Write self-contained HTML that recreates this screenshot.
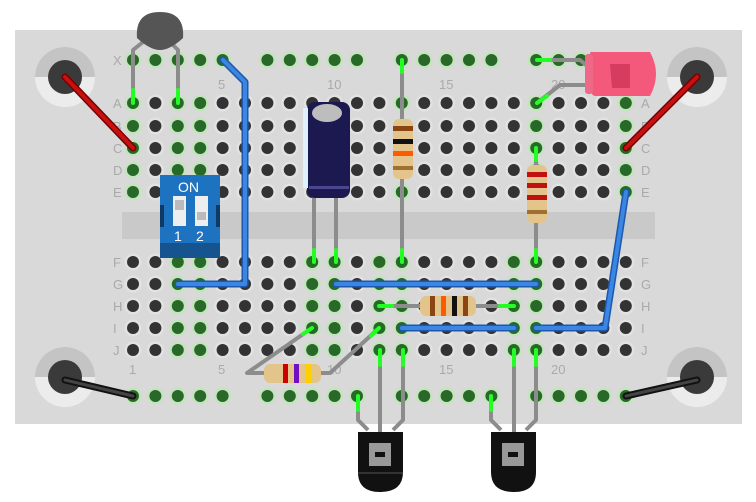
<!DOCTYPE html>
<html><head><meta charset="utf-8"><style>
html,body{margin:0;padding:0;background:#fff;width:756px;height:502px;overflow:hidden}
svg{display:block}
text{font-family:"Liberation Sans",sans-serif;fill:#aaa;font-size:13px}
</style></head><body>
<svg id="s" width="756" height="502" viewBox="0 0 756 502" xmlns="http://www.w3.org/2000/svg">
<rect x="15" y="30" width="727" height="394" fill="#d9d9d9"/>
<rect x="122" y="212" width="533" height="27" fill="#c9c9c9"/>
<g id="holes"></g>
<g>
<text x="113" y="65">X</text>
<text x="113" y="108">A</text><text x="113" y="131">B</text><text x="113" y="153">C</text><text x="113" y="175">D</text><text x="113" y="197">E</text>
<text x="113" y="267">F</text><text x="113" y="289">G</text><text x="113" y="311">H</text><text x="113" y="333">I</text><text x="113" y="355">J</text>
<text x="641" y="108">A</text><text x="641" y="131">B</text><text x="641" y="153">C</text><text x="641" y="175">D</text><text x="641" y="197">E</text>
<text x="641" y="267">F</text><text x="641" y="289">G</text><text x="641" y="311">H</text><text x="641" y="333">I</text><text x="641" y="355">J</text>
<text x="218" y="89">5</text><text x="327" y="89">10</text><text x="439" y="89">15</text><text x="551" y="89">20</text>
<text x="129" y="374">1</text><text x="218" y="374">5</text><text x="327" y="374">10</text><text x="439" y="374">15</text><text x="551" y="374">20</text>
</g>
<g>
<circle cx="65" cy="77" r="30" fill="#ececec"/><path d="M35 77 A30 30 0 0 1 95 77Z" fill="#c4c4c4"/><circle cx="65" cy="77" r="17" fill="#3a3a3a"/>
<circle cx="697" cy="77" r="30" fill="#ececec"/><path d="M667 77 A30 30 0 0 1 727 77Z" fill="#c4c4c4"/><circle cx="697" cy="77" r="17" fill="#3a3a3a"/>
<circle cx="65" cy="377" r="30" fill="#ececec"/><path d="M35 377 A30 30 0 0 1 95 377Z" fill="#c4c4c4"/><circle cx="65" cy="377" r="17" fill="#3a3a3a"/>
<circle cx="697" cy="377" r="30" fill="#ececec"/><path d="M667 377 A30 30 0 0 1 727 377Z" fill="#c4c4c4"/><circle cx="697" cy="377" r="17" fill="#3a3a3a"/>
</g>
<g stroke-linecap="round" fill="none">
<line x1="65" y1="77" x2="133" y2="148" stroke="#700" stroke-width="7"/><line x1="65" y1="77" x2="133" y2="148" stroke="#c81010" stroke-width="4"/>
<line x1="697" y1="77" x2="626" y2="148" stroke="#700" stroke-width="7"/><line x1="697" y1="77" x2="626" y2="148" stroke="#c81010" stroke-width="4"/>
<line x1="65" y1="380" x2="133" y2="396" stroke="#111" stroke-width="7"/><line x1="65" y1="380" x2="133" y2="396" stroke="#444" stroke-width="3"/>
<line x1="697" y1="380" x2="626" y2="396" stroke="#111" stroke-width="7"/><line x1="697" y1="380" x2="626" y2="396" stroke="#444" stroke-width="3"/>
<g stroke="#1c58b0" stroke-width="7" stroke-linejoin="round">
<polyline points="223,60 245,82 245,284 178,284"/>
<polyline points="336,284 536,284"/>
<polyline points="402,328 514,328"/>
<polyline points="536,328 605,328 626,192"/>
</g>
<g stroke="#3b86e0" stroke-width="4" stroke-linejoin="round">
<polyline points="223,60 245,82 245,284 178,284"/>
<polyline points="336,284 536,284"/>
<polyline points="402,328 514,328"/>
<polyline points="536,328 605,328 626,192"/>
</g>
</g>
<g stroke="#8c8c8c" stroke-width="4" fill="none" stroke-linejoin="round">
<polyline points="133,103 133,50 143,42"/><polyline points="178,103 178,50 170,42"/>
<line x1="314" y1="262" x2="314" y2="195"/><line x1="336" y1="262" x2="336" y2="195"/>
<line x1="402" y1="60" x2="402" y2="262"/>
<line x1="536" y1="148" x2="536" y2="262"/>
<polyline points="537,60 580,60 592,70"/><polyline points="537,103 560,85 592,85"/>
<line x1="379" y1="306" x2="514" y2="306"/>
<polyline points="312,328 247,373 330,373 379,328"/>
<polyline points="358,396 358,420 368,430"/><line x1="380" y1="350" x2="380" y2="432"/><polyline points="403,350 403,420 393,430"/>
<polyline points="491,396 491,420 501,430"/><line x1="514" y1="350" x2="514" y2="432"/><polyline points="536,350 536,420 526,430"/>
</g>
<g stroke="#2f2" stroke-width="4" stroke-linecap="round">
<line x1="133" y1="103" x2="133" y2="90"/><line x1="178" y1="103" x2="178" y2="90"/>
<line x1="314" y1="262" x2="314" y2="250"/><line x1="336" y1="262" x2="336" y2="250"/>
<line x1="402" y1="60" x2="402" y2="72"/><line x1="402" y1="262" x2="402" y2="250"/>
<line x1="536" y1="148" x2="536" y2="160"/><line x1="536" y1="262" x2="536" y2="250"/>
<line x1="537" y1="60" x2="550" y2="60"/><line x1="537" y1="103" x2="547" y2="96"/>
<line x1="379" y1="306" x2="392" y2="306"/><line x1="514" y1="306" x2="500" y2="306"/>
<line x1="312" y1="328" x2="303" y2="334"/><line x1="379" y1="328" x2="371" y2="336"/>
<line x1="358" y1="396" x2="358" y2="410"/><line x1="380" y1="350" x2="380" y2="365"/><line x1="403" y1="350" x2="403" y2="365"/>
<line x1="491" y1="396" x2="491" y2="410"/><line x1="514" y1="350" x2="514" y2="365"/><line x1="536" y1="350" x2="536" y2="365"/>
</g>
<path d="M137 38 Q135 12 160 12 Q185 12 183 38 Q170 50 160 50 Q150 50 137 38Z" fill="#555"/>
<rect x="160" y="175" width="60" height="83" fill="#1e73c0"/>
<rect x="160" y="243" width="60" height="15" fill="#15548f"/>
<rect x="160" y="205" width="4" height="22" fill="#0d3a66"/><rect x="216" y="205" width="4" height="22" fill="#0d3a66"/>
<text x="178" y="192" style="fill:#fff;font-size:14px">ON</text>
<rect x="173" y="196" width="13" height="30" fill="#eee"/><rect x="175" y="200" width="9" height="10" fill="#bbb"/>
<rect x="195" y="196" width="13" height="30" fill="#eee"/><rect x="197" y="212" width="9" height="8" fill="#bbb"/>
<text x="174" y="241" style="fill:#fff;font-size:14px">1</text><text x="196" y="241" style="fill:#fff;font-size:14px">2</text>
<rect x="307" y="102" width="43" height="96" rx="8" fill="#1c1850"/>
<ellipse cx="327" cy="113" rx="15" ry="9" fill="#bdbdbd"/>
<rect x="303" y="108" width="5" height="80" fill="#dff0ff"/>
<rect x="309" y="186" width="40" height="3" fill="#4a4690"/>
<g>
<rect x="393" y="119" width="20" height="60" rx="6" fill="#e3c58c"/>
<rect x="393" y="126" width="20" height="5" fill="#8b4513"/><rect x="393" y="139" width="20" height="5" fill="#111"/><rect x="393" y="151" width="20" height="5" fill="#ff5a00"/><rect x="393" y="166" width="20" height="4" fill="#a07030"/>
<rect x="527" y="165" width="20" height="58" rx="6" fill="#e3c58c"/>
<rect x="527" y="172" width="20" height="5" fill="#c01010"/><rect x="527" y="183" width="20" height="5" fill="#c01010"/><rect x="527" y="195" width="20" height="5" fill="#c01010"/><rect x="527" y="210" width="20" height="4" fill="#a07030"/>
</g>
<rect x="420" y="296" width="56" height="20" rx="6" fill="#e3c58c"/>
<rect x="430" y="296" width="5" height="20" fill="#8b4513"/><rect x="441" y="296" width="5" height="20" fill="#ff5a00"/><rect x="452" y="296" width="5" height="20" fill="#111"/><rect x="463" y="296" width="5" height="20" fill="#8b4513"/>
<rect x="264" y="364" width="57" height="19" rx="6" fill="#e3c58c"/>
<rect x="283" y="364" width="5" height="19" fill="#c00"/><rect x="294" y="364" width="5" height="19" fill="#7010c0"/><rect x="306" y="364" width="5" height="19" fill="#ffd000"/>
<path d="M592 52 Q588 50 590 72 Q588 95 595 96 L650 96 Q662 74 650 52 Z" fill="#f4587a"/>
<rect x="585" y="54" width="8" height="40" rx="3" fill="#f06888"/>
<path d="M610 64 L630 64 L630 88 L612 88Z" fill="#d63c60"/>
<g>
<path d="M358 432 L403 432 L403 472 Q403 492 380 492 Q358 492 358 472Z" fill="#111"/>
<rect x="358" y="472" width="45" height="2" fill="#333"/>
<rect x="369" y="443" width="22" height="23" fill="#999"/><rect x="375" y="452" width="10" height="5" fill="#111"/>
<path d="M491 432 L536 432 L536 472 Q536 492 514 492 Q491 492 491 472Z" fill="#111"/>
<rect x="502" y="443" width="22" height="23" fill="#999"/><rect x="508" y="452" width="10" height="5" fill="#111"/>
</g>
</svg>
<script>
(function(){
var g=document.getElementById('holes'),ns='http://www.w3.org/2000/svg';
function X(n){return 133+22.4*(n-1);}
function hole(x,y,green){
 var c=document.createElementNS(ns,'circle');c.setAttribute('cx',x);c.setAttribute('cy',y);c.setAttribute('r',8.5);c.setAttribute('fill',green?'#c4e4be':'#e2e2e2');g.appendChild(c);
 c=document.createElementNS(ns,'circle');c.setAttribute('cx',x);c.setAttribute('cy',y);c.setAttribute('r',6);c.setAttribute('fill',green?'#286828':'#333');g.appendChild(c);
}
var top=[103,126,148,170,192],bot=[262,284,306,328,350];
var gt=[1,3,4,13,19,23],gb=[3,4,9,10,12,13,18,19];
for(var n=1;n<=23;n++){
 for(var i=0;i<5;i++){hole(X(n),top[i],gt.indexOf(n)>=0);hole(X(n),bot[i],gb.indexOf(n)>=0);}
 if(n%6!=0){hole(X(n),60,true);hole(X(n),396,true);}
}
})();
</script>
</body></html>
